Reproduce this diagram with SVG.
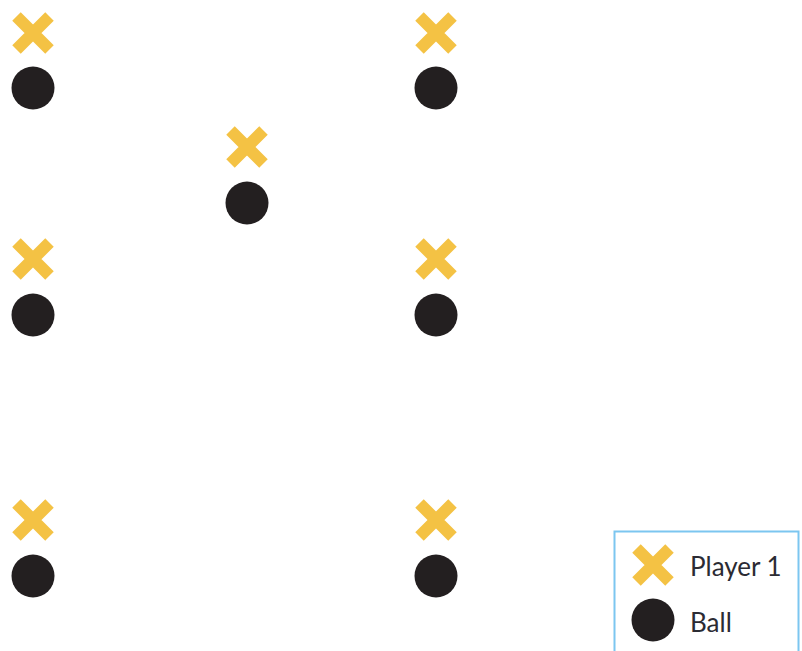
<svg xmlns="http://www.w3.org/2000/svg" width="802" height="651" viewBox="0 0 802 651">
<style>
.x{stroke:#F4C244;stroke-width:12;fill:none}
.ball{fill:#231F20}
.lbl{font-family:Lato,"Open Sans",sans-serif;font-size:26px;fill:#2b2b33}
</style>
<defs>
<path id="cross" class="x" d="M-16.5,-16.5L16.5,16.5M16.5,-16.5L-16.5,16.5"/>
</defs>
<rect width="802" height="651" fill="#fff"/>
<g id="p1"><use href="#cross" x="33" y="33"/><circle class="ball" cx="33" cy="88" r="21.5"/></g>
<g id="p2"><use href="#cross" x="436" y="33"/><circle class="ball" cx="436" cy="88" r="21.5"/></g>
<g id="p3"><use href="#cross" x="247" y="147"/><circle class="ball" cx="247" cy="203" r="21.5"/></g>
<g id="p4"><use href="#cross" x="33" y="259"/><circle class="ball" cx="33" cy="315" r="21.5"/></g>
<g id="p5"><use href="#cross" x="436" y="259"/><circle class="ball" cx="436" cy="315" r="21.5"/></g>
<g id="p6"><use href="#cross" x="33" y="520"/><circle class="ball" cx="33" cy="576" r="21.5"/></g>
<g id="p7"><use href="#cross" x="436" y="520"/><circle class="ball" cx="436" cy="576" r="21.5"/></g>
<g id="legend">
<rect x="614.5" y="531.5" width="184" height="130" fill="none" stroke="#7CC6F0" stroke-width="2"/>
<use href="#cross" x="653" y="565"/>
<text class="lbl" x="690" y="576">Player 1</text>
<circle class="ball" cx="653" cy="620" r="21.5"/>
<text class="lbl" x="690" y="632">Ball</text>
</g>
<g id="connectors"/>
</svg>
